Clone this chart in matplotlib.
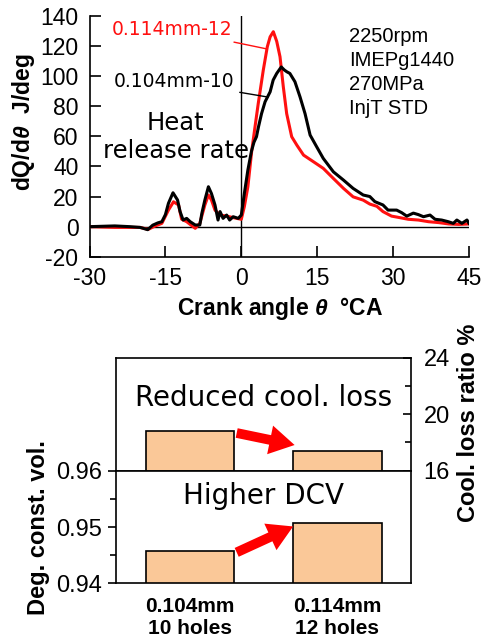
import numpy as np
import matplotlib
matplotlib.use("Agg")
import matplotlib.pyplot as plt

plt.rcParams['font.family'] = ['Liberation Sans', 'DejaVu Sans']
plt.rcParams['axes.unicode_minus'] = False
plt.rcParams['mathtext.fontset'] = 'custom'
plt.rcParams['mathtext.it'] = 'Liberation Sans:italic:bold'
plt.rcParams['mathtext.rm'] = 'Liberation Sans:bold'

# heat release rate, 0.104mm x 10 holes (black)
theta_104 = [-30, -25, -22, -20, -18.5, -17.5, -16.5, -15.7, -15, -14.4, -13.5, -12.6, -12.1, -11.5, -10.8,
             -10.1, -9.1, -8.2, -7.8, -7.2, -6.5, -5.9, -5.2, -4.6, -4.2, -3.6, -2.9, -2.3, -1.6, -0.6,
             0, 0.6, 1.3, 2, 2.5, 3, 3.4, 4, 4.7, 5.7, 6.3, 7, 7.9, 8.5, 9, 9.6, 10.6, 11.6, 12.6, 13.6,
             14.9, 16.2, 18.2, 20.2, 22.1, 24.1, 25.4, 26.4, 28, 29, 30.7, 31.7, 32.7, 34, 35, 36, 37.3,
             38.3, 39.6, 40.9, 41.9, 42.6, 43.6, 44.6, 45]
hrr_104 = [0, 0.5, 0, -0.5, -2, 1, 2.5, 3.3, 8, 15.5, 22.5, 17.7, 10, 4.4, 5.5,
           3.3, 1.1, 1.1, 8.8, 17.7, 26.5, 22, 14.4, 4.4, 10, 5.5, 7.7, 4.4, 6.6, 5.5,
           7.7, 22, 37.6, 50, 56, 59.7, 66.3, 75, 82.9, 89.5, 97.3, 101.7, 106, 104, 102.8, 101.7, 96.2, 86.2, 75, 60.8,
           53, 45.3, 36.4, 30.9, 25.4, 21, 20, 16.6, 14.4, 11, 11, 9.3, 7, 9, 8, 6.6, 7.7,
           4.9, 4.4, 3.3, 2.2, 4.4, 2.2, 4.4, 2.2]

# heat release rate, 0.114mm x 12 holes (red)
theta_114 = [-30, -25, -22, -20, -18.4, -17, -15.7, -14.4, -13.4, -12.4, -11.8, -10.8, -9.1, -8.2, -7.2,
             -6.5, -5.9, -5.2, -4.2, -2.9, -0.9, 0, 0.6, 1.3, 2.05, 2.7, 3.36, 4.35, 5.14, 5.7, 6.33, 7, 7.65, 8.3,
             8.97, 9.96, 11, 12.3, 14.3, 16.2, 18.2, 20.2, 22.1, 24.1, 25.4, 26.8, 28, 29.7, 31, 33, 35, 37,
             39, 41, 43, 45]
hrr_114 = [0, -0.5, -0.5, -0.5, -1.8, 0.5, 2.2, 11, 16.5, 14.4, 5, 3.3, -1.1, 2.2, 14.4,
           21, 17.7, 11, 7.7, 7, 5.5, 4.9, 13.3, 26.5, 50, 66, 82, 104, 119.4, 126, 129.4, 123, 112.8, 92.9,
           75, 59.7, 54, 47.5, 43, 38.7, 32, 25.4, 19.8, 17.6, 15, 13.5, 10, 7, 6.2, 4.9, 4.4, 3.3,
           2.7, 1.8, 1.5, 1.8]

# bar data
nozzles = ['0.104mm\n10 holes', '0.114mm\n12 holes']
cool_loss = [18.8, 17.4]
dcv = [0.9457, 0.9507]

cond_text = "2250rpm\nIMEPg1440\n270MPa\nInjT STD"

fig = plt.figure(figsize=(4.82, 6.42), dpi=100)

# ---- top: heat release rate
ax = fig.add_axes([0.1857, 0.600, 0.7873, 0.3755])
ax.plot(theta_114, hrr_114, c='#ff1010', lw=2.2, zorder=3)
ax.plot(theta_104, hrr_104, c='k', lw=2.2, zorder=4)
ax.axhline(0, c='k', lw=1.0, zorder=2)
ax.axvline(0, c='k', lw=1.0, zorder=2)
ax.set_xlim(-30, 45)
ax.set_ylim(-20, 140)
ax.set_xticks([-30, -15, 0, 15, 30, 45])
ax.set_yticks(np.arange(-20, 141, 20))
ax.spines['top'].set_visible(False)
ax.spines['right'].set_visible(False)
for s in ['left', 'bottom']:
    ax.spines[s].set_linewidth(1.2)
ax.tick_params(direction='in', length=8, width=1.2, labelsize=16.5)
ax.tick_params(axis='y', pad=8)
ax.tick_params(axis='x', pad=7)

ax.annotate('0.114mm-12', xy=(5.0, 118), xytext=(-1.8, 131), color='#ff1010',
            fontsize=13.5, family='DejaVu Sans', ha='right', va='center',
            arrowprops=dict(arrowstyle='-', color='#ff1010', lw=1.0, shrinkA=2, shrinkB=0))
ax.annotate('0.104mm-10', xy=(5.3, 86), xytext=(-1.4, 96.5), color='k',
            fontsize=13.5, family='DejaVu Sans', ha='right', va='center',
            arrowprops=dict(arrowstyle='-', color='k', lw=1.0, shrinkA=2, shrinkB=0))
ax.text(21.3, 132.5, cond_text, fontsize=14.5, ha='left', va='top', linespacing=1.33)
ax.text(-13.0, 59.5, 'Heat\nrelease rate', fontsize=17.5, family='DejaVu Sans',
        ha='center', va='center', multialignment='center', linespacing=1.25)

fig.text(0.048, 0.81, r'dQ/d$\theta$  J/deg', rotation=90, ha='center', va='center',
         fontsize=16.5, fontweight='bold')
fig.text(0.581, 0.520, r'Crank angle $\theta$  °CA', ha='center', va='center',
         fontsize=16.5, fontweight='bold')

# ---- bottom: cooling loss (upper) and degree of constant volume (lower)
bar_col = '#fac898'
x = np.arange(len(nozzles))
arrow_kw = dict(facecolor='#ff0000', edgecolor='none', width=7, headwidth=21, headlength=18, shrink=0)

ax_cl = fig.add_axes([0.2413, 0.2668, 0.6114, 0.176])
ax_cl.bar(x, cool_loss, width=0.6, color=bar_col, edgecolor='k', lw=1.2, zorder=2)
ax_cl.set_xlim(-0.5, 1.5)
ax_cl.set_ylim(16, 24)
ax_cl.yaxis.tick_right()
ax_cl.set_yticks([16, 20, 24])
ax_cl.set_yticks([18, 22], minor=True)
ax_cl.tick_params(axis='y', which='major', direction='in', length=6, width=1.2, labelsize=17, pad=9)
ax_cl.tick_params(axis='y', which='minor', direction='in', length=4, width=1.2)
ax_cl.set_xticks([])
for s in ax_cl.spines.values():
    s.set_linewidth(1.2)
ax_cl.text(0.5, 21.15, 'Reduced cool. loss', fontsize=20, family='DejaVu Sans', ha='center', va='center')
ax_cl.annotate('', xy=(0.71, 17.82), xytext=(0.317, 18.67), arrowprops=arrow_kw)

ax_dcv = fig.add_axes([0.2413, 0.0914, 0.6114, 0.1754])
ax_dcv.bar(x, dcv, width=0.6, color=bar_col, edgecolor='k', lw=1.2, zorder=2)
ax_dcv.set_xlim(-0.5, 1.5)
ax_dcv.set_ylim(0.94, 0.96)
ax_dcv.set_yticks([0.94, 0.95, 0.96])
ax_dcv.set_yticklabels(['0.94', '0.95', '0.96'])
ax_dcv.set_yticks([0.945, 0.955], minor=True)
ax_dcv.tick_params(axis='y', which='major', direction='out', length=6, width=1.2, labelsize=17, pad=4)
ax_dcv.tick_params(axis='y', which='minor', direction='out', length=4, width=1.2)
ax_dcv.set_xticks(x)
ax_dcv.set_xticklabels(nozzles, fontsize=15, fontweight='bold', linespacing=1.2)
ax_dcv.tick_params(axis='x', length=0, pad=10)
for s in ax_dcv.spines.values():
    s.set_linewidth(1.2)
ax_dcv.text(0.5, 0.9555, 'Higher DCV', fontsize=20, family='DejaVu Sans', ha='center', va='center')
ax_dcv.annotate('', xy=(0.70, 0.9501), xytext=(0.317, 0.9455), arrowprops=arrow_kw)

fig.text(0.079, 0.179, 'Deg. const. vol.', rotation=90, ha='center', va='center',
         fontsize=17, fontweight='bold')
fig.text(0.971, 0.341, 'Cool. loss ratio %', rotation=90, ha='center', va='center',
         fontsize=17, fontweight='bold')

fig.savefig('out.png', dpi=100)
